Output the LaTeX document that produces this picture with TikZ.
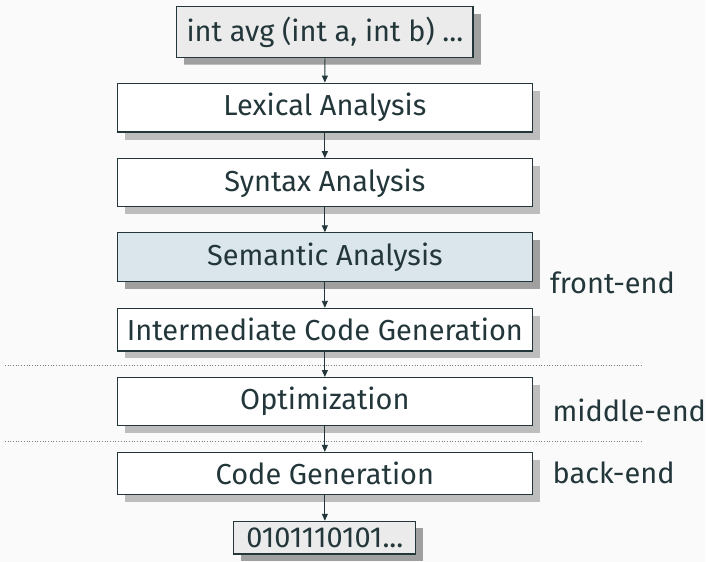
\documentclass[tikz,border=0pt]{standalone}
\usepackage{fontspec}
\setmainfont{Fira Sans}
\usetikzlibrary{shadows,arrows.meta}
\definecolor{mteal}{RGB}{35,55,59}
\definecolor{bgcol}{RGB}{250,250,250}
\definecolor{shlight}{RGB}{189,189,189}
\definecolor{shdark}{RGB}{160,160,160}
\definecolor{iofill}{RGB}{235,235,235}
\definecolor{semfill}{RGB}{218,230,235}
\definecolor{dotcol}{RGB}{120,130,132}
\begin{document}
\begin{tikzpicture}[x=1pt,y=-1pt,
  font=\fontsize{29}{35}\selectfont, text=mteal,
  box/.style={draw=mteal, line width=1.1pt, fill=white, inner sep=0pt,
    minimum width=416.4pt,
    drop shadow={shadow xshift=7.5pt, shadow yshift=-7.5pt, fill=shlight, opacity=1}},
  iobox/.style={box, fill=iofill,
    drop shadow={shadow xshift=7.5pt, shadow yshift=-7pt, fill=shdark, opacity=1}},
  hlbox/.style={box, fill=semfill,
    drop shadow={shadow xshift=7.5pt, shadow yshift=-7pt, fill=shdark, opacity=1}},
  arr/.style={draw=mteal, line width=0.9pt, -{Triangle[length=7pt,width=6pt]}},
  sep/.style={draw=dotcol, line width=0.7pt, dotted},
  lbl/.style={anchor=base west, inner sep=0pt}]
\fill[bgcol] (0,0) rectangle (706,563);
\node[iobox, minimum width=296.7pt, minimum height=50.6pt] (src) at (325.6,32) {int avg (int a, int b) ...};
\node[box, minimum height=49pt] (lex) at (325.5,107.8) {Lexical Analysis};
\node[box, minimum height=48.3pt] (syn) at (325.5,183.2) {Syntax Analysis};
\node[hlbox, minimum height=49pt] (sem) at (325.5,257.8) {Semantic Analysis};
\node[box, minimum height=42.7pt] (ir) at (325.5,330.3) {Intermediate Code Generation};
\node[box, minimum height=48.4pt] (opt) at (325.5,402.5) {Optimization};
\node[box, minimum height=41.7pt] (cg) at (325.5,474.2) {Code Generation};
\node[iobox, minimum width=182.4pt, minimum height=32.7pt] (out) at (325.5,538.7) {0101110101...};
\draw[arr] (src.south) -- (lex.north);
\draw[arr] (lex.south) -- (syn.north);
\draw[arr] (syn.south) -- (sem.north);
\draw[arr] (sem.south) -- (ir.north);
\draw[arr] (ir.south) -- (opt.north);
\draw[arr] (opt.south) -- (cg.north);
\draw[arr] (cg.south) -- (out.north);
\coordinate (s1a) at (5,365.7); \coordinate (s1b) at (644,365.7);
\coordinate (s2a) at (5,442.3); \coordinate (s2b) at (644,442.3);
\draw[sep] (s1a) -- (s1b);
\draw[sep] (s2a) -- (s2b);
\node[lbl] (fe) at (551,294) {front-end};
\node[lbl] (me) at (553.5,422.7) {middle-end};
\node[lbl] (be) at (553.5,484.3) {back-end};
\end{tikzpicture}
\end{document}
